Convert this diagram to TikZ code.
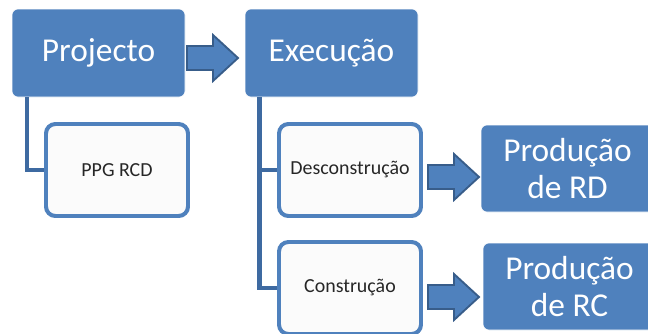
\documentclass[tikz,border=0pt]{standalone}
\usepackage{fontspec}
\setmainfont{Carlito}
\usepackage{xcolor}
\definecolor{accent}{HTML}{4F81BD}
\definecolor{accentdark}{HTML}{385D8A}
\definecolor{linkblue}{HTML}{3E6AA1}
\definecolor{paper}{HTML}{FBFBFB}
\tikzset{
  bigbox/.style={rectangle, rounded corners=5pt, fill=accent, draw=white, line width=0.6pt,
    text=white, font=\fontsize{28.5}{32}\selectfont, align=center, inner sep=0pt},
  smallbox/.style={rectangle, rounded corners=8pt, fill=paper, draw=accent, line width=3.4pt,
    text=black!85, font=\fontsize{17}{20}\selectfont, inner sep=0pt},
  link/.style={draw=linkblue, line width=4pt},
  fatarrow/.pic={
    \filldraw[fill=accent, draw=accentdark, line width=1.6pt, line join=miter]
      (0,-12) -- (26,-12) -- (26,-23) -- (51,0) -- (26,23) -- (26,12) -- (0,12) -- cycle;
  }
}
\begin{document}
\begin{tikzpicture}[x=0.03cm, y=-0.03cm]
  \clip (0,0) rectangle (648,333);
  \useasboundingbox (0,0) rectangle (648,333);
  % top row
  \node[bigbox, minimum width=173*0.03cm, minimum height=88*0.03cm] (proj) at (98.5,53) {Projecto};
  \node[bigbox, minimum width=173*0.03cm, minimum height=88*0.03cm] (exec) at (331.5,53) {Execução};
  % sub boxes
  \node[smallbox, minimum width=142*0.03cm, minimum height=92*0.03cm] (ppg) at (117,170) {PPG RCD};
  \node[smallbox, minimum width=142*0.03cm, minimum height=92*0.03cm] (desc) at (350,170) {Desconstrução};
  \node[smallbox, minimum width=142*0.03cm, minimum height=92*0.03cm] (cons) at (350,288) {Construção};
  % results
  \node[bigbox, minimum width=173*0.03cm, minimum height=87*0.03cm] (prd) at (567.5,168.5) {Produção\\de RD};
  \node[bigbox, minimum width=173*0.03cm, minimum height=87*0.03cm] (prc) at (569.5,286.5) {Produção\\de RC};
  % tree lines
  \draw[link] ([xshift=15.5*0.03cm]proj.south west) |- (ppg.west);
  \draw[link] ([xshift=15*0.03cm]exec.south west) |- (desc.west);
  \draw[link] ([xshift=15*0.03cm]exec.south west) |- (cons.west);
  % block arrows
  \pic at (187,58) {fatarrow};
  \pic at (428,177) {fatarrow};
  \pic at (428,297) {fatarrow};
\end{tikzpicture}
\end{document}
